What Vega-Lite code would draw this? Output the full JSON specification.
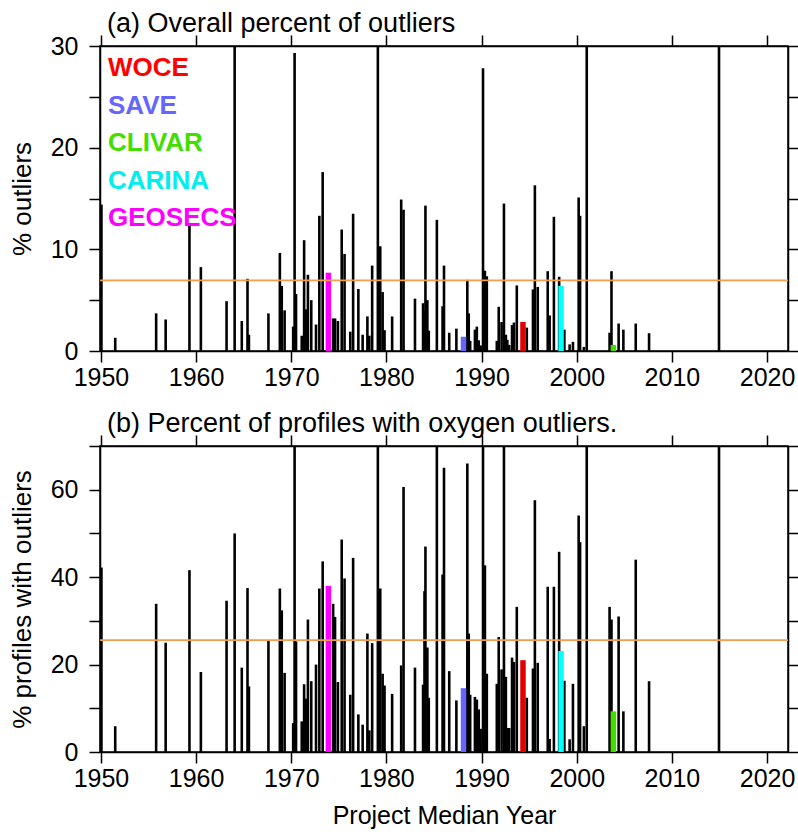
{
  "$schema": "https://vega.github.io/schema/vega-lite/v6.json",
  "padding": {"left": 8, "top": 9, "right": 0, "bottom": 4},
  "spacing": 18,
  "config": {
    "font": "Liberation Sans",
    "view": {"stroke": "black", "strokeWidth": 1.5},
    "axis": {
      "grid": false, "domainColor": "black", "domainWidth": 1.5,
      "tickColor": "black", "tickWidth": 1.5, "tickSize": 11,
      "labelFont": "Liberation Sans", "labelFontSize": 25, "labelColor": "black", "labelPadding": 3,
      "labelFlush": false, "labelOverlap": false,
      "titleFont": "Liberation Sans", "titleFontSize": 26, "titleFontWeight": "normal", "titleColor": "black"
    },
    "title": {"font": "Liberation Sans", "fontSize": 27, "fontWeight": "normal", "color": "black", "anchor": "start", "frame": "group", "dx": 7, "offset": -4}
  },
  "datasets": {
    "bars": [
      {"year": 1950.05, "overall": 14.4, "profiles": 42.2, "program": "other"},
      {"year": 1951.5, "overall": 1.3, "profiles": 5.9, "program": "other"},
      {"year": 1955.8, "overall": 3.7, "profiles": 33.9, "program": "other"},
      {"year": 1956.8, "overall": 3.1, "profiles": 25.0, "program": "other"},
      {"year": 1959.3, "overall": 12.5, "profiles": 41.6, "program": "other"},
      {"year": 1960.5, "overall": 8.25, "profiles": 18.3, "program": "other"},
      {"year": 1963.2, "overall": 4.9, "profiles": 34.6, "program": "other"},
      {"year": 1964.05, "overall": 35, "profiles": 50.0, "program": "other"},
      {"year": 1964.8, "overall": 2.95, "profiles": 19.3, "program": "other"},
      {"year": 1965.4, "overall": 7.1, "profiles": 37.5, "program": "other"},
      {"year": 1965.55, "overall": 1.6, "profiles": 15.0, "program": "other"},
      {"year": 1967.6, "overall": 3.7, "profiles": 25.4, "program": "other"},
      {"year": 1968.8, "overall": 9.65, "profiles": 37.4, "program": "other"},
      {"year": 1969.0, "overall": 6.4, "profiles": 32.4, "program": "other"},
      {"year": 1969.3, "overall": 4.0, "profiles": 18.1, "program": "other"},
      {"year": 1970.2, "overall": 2.4, "profiles": 6.6, "program": "other"},
      {"year": 1970.35, "overall": 29.3, "profiles": 80, "program": "other"},
      {"year": 1970.5, "overall": 5.6, "profiles": 25.3, "program": "other"},
      {"year": 1971.1, "overall": 1.5, "profiles": 7.0, "program": "other"},
      {"year": 1971.35, "overall": 10.9, "profiles": 15.5, "program": "other"},
      {"year": 1971.55, "overall": 4.1, "profiles": 12.2, "program": "other"},
      {"year": 1971.75, "overall": 7.5, "profiles": 30.3, "program": "other"},
      {"year": 1972.1, "overall": 5.0, "profiles": 16.2, "program": "other"},
      {"year": 1972.6, "overall": 2.6, "profiles": 20.0, "program": "other"},
      {"year": 1972.95, "overall": 13.3, "profiles": 37.4, "program": "other"},
      {"year": 1973.3, "overall": 17.6, "profiles": 43.6, "program": "other"},
      {"year": 1973.9, "overall": 7.7, "profiles": 38.0, "program": "GEOSECS"},
      {"year": 1974.4, "overall": 3.2, "profiles": 33.9, "program": "other"},
      {"year": 1974.6, "overall": 3.2, "profiles": 30.9, "program": "other"},
      {"year": 1974.9, "overall": 2.95, "profiles": 16.0, "program": "other"},
      {"year": 1975.3, "overall": 11.95, "profiles": 48.6, "program": "other"},
      {"year": 1975.6, "overall": 9.55, "profiles": 39.7, "program": "other"},
      {"year": 1976.2, "overall": 1.9, "profiles": 13.1, "program": "other"},
      {"year": 1976.5, "overall": 13.5, "profiles": 44.4, "program": "other"},
      {"year": 1977.05, "overall": 6.1, "profiles": 8.6, "program": "other"},
      {"year": 1977.5, "overall": 1.6, "profiles": 6.25, "program": "other"},
      {"year": 1978.0, "overall": 3.4, "profiles": 27.1, "program": "other"},
      {"year": 1978.2, "overall": 1.5, "profiles": 4.95, "program": "other"},
      {"year": 1978.5, "overall": 8.4, "profiles": 24.9, "program": "other"},
      {"year": 1979.1, "overall": 35, "profiles": 80, "program": "other"},
      {"year": 1979.35, "overall": 10.3, "profiles": 37.4, "program": "other"},
      {"year": 1979.6, "overall": 5.8, "profiles": 17.9, "program": "other"},
      {"year": 1979.8, "overall": 2.05, "profiles": 15.2, "program": "other"},
      {"year": 1980.6, "overall": 3.4, "profiles": 13.3, "program": "other"},
      {"year": 1981.55, "overall": 14.9, "profiles": 19.8, "program": "other"},
      {"year": 1981.8, "overall": 13.9, "profiles": 60.6, "program": "other"},
      {"year": 1983.0, "overall": 5.15, "profiles": 19.3, "program": "other"},
      {"year": 1983.85, "overall": 4.7, "profiles": 15.4, "program": "other"},
      {"year": 1984.0, "overall": 4.0, "profiles": 36.8, "program": "other"},
      {"year": 1984.1, "overall": 14.3, "profiles": 47.0, "program": "other"},
      {"year": 1984.3, "overall": 5.0, "profiles": 23.9, "program": "other"},
      {"year": 1984.45, "overall": 2.0, "profiles": 12.4, "program": "other"},
      {"year": 1985.3, "overall": 12.9, "profiles": 80, "program": "other"},
      {"year": 1985.9, "overall": 4.4, "profiles": 40.6, "program": "other"},
      {"year": 1986.05, "overall": 8.4, "profiles": 65.0, "program": "other"},
      {"year": 1986.6, "overall": 1.8, "profiles": 18.5, "program": "other"},
      {"year": 1987.35, "overall": 2.2, "profiles": 11.8, "program": "other"},
      {"year": 1988.1, "overall": 1.4, "profiles": 14.6, "program": "SAVE"},
      {"year": 1988.5, "overall": 7.0, "profiles": 66.0, "program": "other"},
      {"year": 1988.65, "overall": 3.7, "profiles": 27.1, "program": "other"},
      {"year": 1988.8, "overall": 1.0, "profiles": 13.1, "program": "other"},
      {"year": 1989.3, "overall": 2.1, "profiles": 12.6, "program": "other"},
      {"year": 1989.5, "overall": 2.4, "profiles": 12.0, "program": "other"},
      {"year": 1989.7, "overall": 1.05, "profiles": 9.75, "program": "other"},
      {"year": 1989.9, "overall": 0.55, "profiles": 5.3, "program": "other"},
      {"year": 1990.15, "overall": 27.8, "profiles": 80, "program": "other"},
      {"year": 1990.35, "overall": 7.9, "profiles": 42.7, "program": "other"},
      {"year": 1990.55, "overall": 7.35, "profiles": 17.9, "program": "other"},
      {"year": 1991.6, "overall": 1.0, "profiles": 15.6, "program": "other"},
      {"year": 1991.8, "overall": 4.35, "profiles": 26.3, "program": "other"},
      {"year": 1992.1, "overall": 2.85, "profiles": 18.9, "program": "other"},
      {"year": 1992.35, "overall": 14.5, "profiles": 80, "program": "other"},
      {"year": 1992.55, "overall": 1.6, "profiles": 17.2, "program": "other"},
      {"year": 1992.7, "overall": 1.1, "profiles": 5.5, "program": "other"},
      {"year": 1992.9, "overall": 0.6, "profiles": 5.5, "program": "other"},
      {"year": 1993.2, "overall": 2.55, "profiles": 21.6, "program": "other"},
      {"year": 1993.4, "overall": 2.8, "profiles": 20.6, "program": "other"},
      {"year": 1993.7, "overall": 6.45, "profiles": 33.2, "program": "other"},
      {"year": 1994.35, "overall": 2.85, "profiles": 21.0, "program": "WOCE"},
      {"year": 1994.75, "overall": 2.3, "profiles": 12.4, "program": "other"},
      {"year": 1995.4, "overall": 6.05, "profiles": 19.1, "program": "other"},
      {"year": 1995.6, "overall": 16.3, "profiles": 57.6, "program": "other"},
      {"year": 1995.9, "overall": 6.3, "profiles": 20.4, "program": "other"},
      {"year": 1996.95, "overall": 7.85, "profiles": 37.8, "program": "other"},
      {"year": 1997.15, "overall": 3.5, "profiles": 3.0, "program": "other"},
      {"year": 1997.6, "overall": 13.2, "profiles": 37.8, "program": "other"},
      {"year": 1998.15, "overall": 7.3, "profiles": 45.8, "program": "other"},
      {"year": 1998.35, "overall": 6.4, "profiles": 23.1, "program": "CARINA"},
      {"year": 1998.7, "overall": 2.1, "profiles": 16.3, "program": "other"},
      {"year": 1999.25, "overall": 0.65, "profiles": 2.9, "program": "other"},
      {"year": 1999.6, "overall": 0.9, "profiles": 15.6, "program": "other"},
      {"year": 2000.2, "overall": 15.1, "profiles": 54.1, "program": "other"},
      {"year": 2000.35, "overall": 13.3, "profiles": 48.0, "program": "other"},
      {"year": 2000.75, "overall": 0.4, "profiles": 5.9, "program": "other"},
      {"year": 2001.05, "overall": 35, "profiles": 80, "program": "other"},
      {"year": 2003.45, "overall": 1.8, "profiles": 33.2, "program": "other"},
      {"year": 2003.65, "overall": 7.85, "profiles": 30.3, "program": "other"},
      {"year": 2003.85, "overall": 0.6, "profiles": 9.3, "program": "CLIVAR"},
      {"year": 2004.4, "overall": 2.7, "profiles": 31.0, "program": "other"},
      {"year": 2004.9, "overall": 2.1, "profiles": 9.3, "program": "other"},
      {"year": 2006.2, "overall": 2.7, "profiles": 44.0, "program": "other"},
      {"year": 2007.6, "overall": 1.75, "profiles": 16.2, "program": "other"},
      {"year": 2014.95, "overall": 35, "profiles": 80, "program": "other"}
    ],
    "thresholds": [{"overall": 6.95, "profiles": 25.6}]
  },
  "resolve": {"scale": {"x": "independent", "y": "independent", "color": "independent"}, "legend": {"color": "independent"}},
  "vconcat": [
    {
      "width": 688, "height": 305,
      "title": {"text": "(a) Overall percent of outliers"},
      "resolve": {"axis": {"x": "independent", "y": "independent"}},
      "layer": [
        {
          "data": {"name": "bars"},
          "transform": [{"filter": "datum.program == 'other'"}],
          "mark": {"type": "rule", "color": "black", "strokeWidth": 2.6, "clip": true},
          "encoding": {
            "x": {"field": "year", "type": "quantitative", "scale": {"domain": [1949.9, 2022.2], "nice": false, "zero": false},
                  "axis": {"orient": "bottom", "values": [1950, 1960, 1970, 1980, 1990, 2000, 2010, 2020], "format": "d", "title": null}},
            "y": {"field": "overall", "type": "quantitative", "scale": {"domain": [0, 30], "nice": false},
                  "axis": {"orient": "left", "values": [0, 5, 10, 15, 20, 25, 30], "labelExpr": "datum.value % 10 == 0 ? datum.label : ''", "labelPadding": 11, "title": "% outliers", "titlePadding": 15}},
            "y2": {"datum": 0}
          }
        },
        {
          "data": {"name": "bars"},
          "transform": [{"filter": "datum.program != 'other'"}],
          "mark": {"type": "rule", "strokeWidth": 5.5, "clip": true},
          "encoding": {
            "x": {"field": "year", "type": "quantitative",
                  "axis": {"orient": "top", "values": [1950, 1960, 1970, 1980, 1990, 2000, 2010, 2020], "labels": false, "title": null}},
            "y": {"field": "overall", "type": "quantitative",
                  "axis": {"orient": "right", "values": [0, 5, 10, 15, 20, 25, 30], "labels": false, "title": null}},
            "y2": {"datum": 0},
            "color": {"field": "program", "type": "nominal",
                      "scale": {"domain": ["WOCE", "SAVE", "CLIVAR", "CARINA", "GEOSECS"], "range": ["#e00000", "#6666ff", "#44dd00", "#00ffff", "#ff00ff"]},
                      "legend": {"orient": "top-left", "offset": 9, "title": null, "padding": 0,
                                 "symbolSize": 0, "symbolStrokeWidth": 0, "symbolOpacity": 0, "labelOffset": -27,
                                 "labelFont": "Liberation Sans", "labelFontSize": 26, "labelFontWeight": "bold",
                                 "labelColor": {"expr": "datum.label == 'WOCE' ? '#ff0000' : datum.label == 'SAVE' ? '#6666ff' : datum.label == 'CLIVAR' ? '#44dd00' : datum.label == 'CARINA' ? '#00eeee' : '#ff00ff'"},
                                 "rowPadding": 11.5}}
          }
        },
        {
          "data": {"name": "thresholds"},
          "mark": {"type": "rule", "color": "#f39c4b", "strokeWidth": 1.6},
          "encoding": {"y": {"field": "overall", "type": "quantitative", "axis": null}}
        }
      ]
    },
    {
      "width": 688, "height": 306,
      "title": {"text": "(b) Percent of profiles with oxygen outliers."},
      "resolve": {"axis": {"x": "independent", "y": "independent"}},
      "layer": [
        {
          "data": {"name": "bars"},
          "transform": [{"filter": "datum.program == 'other'"}],
          "mark": {"type": "rule", "color": "black", "strokeWidth": 2.6, "clip": true},
          "encoding": {
            "x": {"field": "year", "type": "quantitative", "scale": {"domain": [1949.9, 2022.2], "nice": false, "zero": false},
                  "axis": {"orient": "bottom", "values": [1950, 1960, 1970, 1980, 1990, 2000, 2010, 2020], "format": "d", "title": "Project Median Year", "titleFontSize": 25, "titlePadding": 12}},
            "y": {"field": "profiles", "type": "quantitative", "scale": {"domain": [0, 70], "nice": false},
                  "axis": {"orient": "left", "values": [0, 10, 20, 30, 40, 50, 60, 70], "labelExpr": "datum.value % 20 == 0 ? datum.label : ''", "labelPadding": 11, "title": "% profiles with outliers", "titlePadding": 15}},
            "y2": {"datum": 0}
          }
        },
        {
          "data": {"name": "bars"},
          "transform": [{"filter": "datum.program != 'other'"}],
          "mark": {"type": "rule", "strokeWidth": 5.5, "clip": true},
          "encoding": {
            "x": {"field": "year", "type": "quantitative",
                  "axis": {"orient": "top", "values": [1950, 1960, 1970, 1980, 1990, 2000, 2010, 2020], "labels": false, "title": null}},
            "y": {"field": "profiles", "type": "quantitative",
                  "axis": {"orient": "right", "values": [0, 10, 20, 30, 40, 50, 60, 70], "labels": false, "title": null}},
            "y2": {"datum": 0},
            "color": {"field": "program", "type": "nominal",
                      "scale": {"domain": ["WOCE", "SAVE", "CLIVAR", "CARINA", "GEOSECS"], "range": ["#e00000", "#6666ff", "#44dd00", "#00ffff", "#ff00ff"]},
                      "legend": null}
          }
        },
        {
          "data": {"name": "thresholds"},
          "mark": {"type": "rule", "color": "#f39c4b", "strokeWidth": 1.6},
          "encoding": {"y": {"field": "profiles", "type": "quantitative", "axis": null}}
        }
      ]
    }
  ]
}
